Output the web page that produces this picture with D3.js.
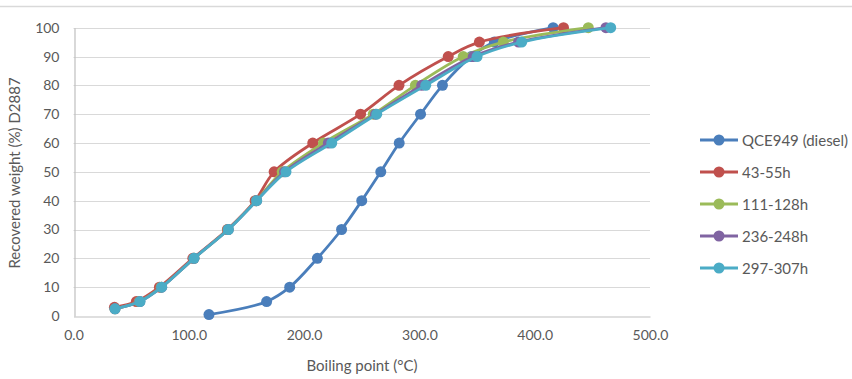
<!DOCTYPE html>
<html><head><meta charset="utf-8">
<script src="https://cdn.jsdelivr.net/npm/d3@7"></script>
<style>body{margin:0;background:#fff}svg{display:block}text{font-family:Lato,"Open Sans",sans-serif;fill:#595959}</style>
</head><body>
<svg id="c" width="852" height="379"></svg>
<script>
const seriesNames = ["QCE949 (diesel)", "43-55h", "111-128h", "236-248h", "297-307h"];
const seriesColors = ["#4A7EBB", "#C0504D", "#9BBB59", "#8064A2", "#4BACC6"];
const yDiesel = [0.5, 5, 10, 20, 30, 40, 50, 60, 70, 80, 90, 95, 100];
const xDiesel = [117.5, 167.5, 187.5, 211.5, 232.5, 250, 266.5, 282.5, 301, 320, 345, 365, 416];
const y4355 = [3, 5, 10, 20, 30, 40, 50, 60, 70, 80, 90, 95, 100];
const x4355 = [35.5, 54.5, 74.5, 103.5, 133.5, 157.5, 174, 207.5, 249, 282.3, 325, 352, 425];
const y111128 = [2.5, 5, 10, 20, 30, 40, 50, 60, 70, 80, 90, 95, 100];
const x111128 = [36, 57, 76, 104.5, 134, 158.5, 181, 216.7, 260, 296.5, 338, 372.8, 446.5];
const y236248 = [2.5, 5, 10, 20, 30, 40, 50, 60, 70, 80, 90, 95, 100];
const x236248 = [36, 57.5, 76.5, 104.5, 134.2, 158.8, 183, 221, 262, 302, 346.7, 386, 461.8];
const y297307 = [2.5, 5, 10, 20, 30, 40, 50, 60, 70, 80, 90, 95, 100];
const x297307 = [36, 57.7, 76.5, 104.5, 134.3, 158.9, 184.3, 224, 263, 305.5, 350, 388.7, 465.9];
const xTicks = [0, 100, 200, 300, 400, 500];
const yTicks = [0, 10, 20, 30, 40, 50, 60, 70, 80, 90, 100];
const xTitle = "Boiling point (°C)";
const yTitle = "Recovered weight (%) D2887";

const xsAll = [xDiesel, x4355, x111128, x236248, x297307];
const ysAll = [yDiesel, y4355, y111128, y236248, y297307];
const series = seriesNames.map((n, i) => ({name: n, color: seriesColors[i],
  pts: xsAll[i].map((x, j) => ({x, y: ysAll[i][j]}))}));

const svg = d3.select("#c");
const x = d3.scaleLinear().domain([0, 500]).range([73.5, 650]);
const y = d3.scaleLinear().domain([0, 100]).range([316, 27.7]);

svg.append("line").attr("x1", 0).attr("x2", 852).attr("y1", 6.5).attr("y2", 6.5)
  .attr("stroke", "#D9D9D9").attr("stroke-width", 1.5);

// gridlines
svg.append("g").selectAll("line").data(yTicks.filter(t => t > 0)).join("line")
  .attr("x1", x(0)).attr("x2", x(500)).attr("y1", d => Math.round(y(d)) + 0.5).attr("y2", d => Math.round(y(d)) + 0.5)
  .attr("stroke", "#D9D9D9").attr("stroke-width", 1.2);

// axes
const xAxis = d3.axisBottom(x).tickValues(xTicks).tickFormat(d3.format(".1f")).tickSize(0).tickPadding(14);
const gx = svg.append("g").attr("transform", `translate(0,${Math.round(y(0)) + 0.5})`).call(xAxis);
gx.select(".domain").attr("stroke", "#BFBFBF").attr("stroke-width", 1.2);
gx.selectAll("text").style("font-size", "14px").attr("fill", "#595959");

const yAxis = d3.axisLeft(y).tickValues(yTicks).tickSize(0).tickPadding(15);
const gy = svg.append("g").attr("transform", `translate(${Math.round(x(0)) + 0.5},0)`).call(yAxis);
gy.select(".domain").attr("stroke", "#BFBFBF").attr("stroke-width", 1.2);
gy.selectAll("text").style("font-size", "14px").attr("fill", "#595959");

// titles
svg.append("text").attr("x", 362).attr("y", 371).attr("text-anchor", "middle")
  .style("font-size", "15px").text(xTitle);
svg.append("text").attr("transform", "translate(20,173) rotate(-90)").attr("text-anchor", "middle")
  .style("font-size", "15px").text(yTitle);

// series
const line = d3.line().x(d => x(d.x)).y(d => y(d.y)).curve(d3.curveCatmullRom.alpha(0.5));
series.forEach(s => {
  const g = svg.append("g");
  g.append("path").attr("d", line(s.pts)).attr("fill", "none").attr("stroke", s.color)
    .attr("stroke-width", 2.8).attr("stroke-linejoin", "round");
  g.selectAll("circle").data(s.pts).join("circle")
    .attr("cx", d => x(d.x)).attr("cy", d => y(d.y)).attr("r", 5.5).attr("fill", s.color);
});

// legend
const lg = svg.append("g");
series.forEach((s, i) => {
  const cy = 140 + i * 32;
  lg.append("line").attr("x1", 700).attr("x2", 738).attr("y1", cy).attr("y2", cy)
    .attr("stroke", s.color).attr("stroke-width", 2.8);
  lg.append("circle").attr("cx", 719).attr("cy", cy).attr("r", 5.5).attr("fill", s.color);
  lg.append("text").attr("x", 742).attr("y", cy + 5.5).style("font-size", "15px").text(s.name);
});
</script>
</body></html>
